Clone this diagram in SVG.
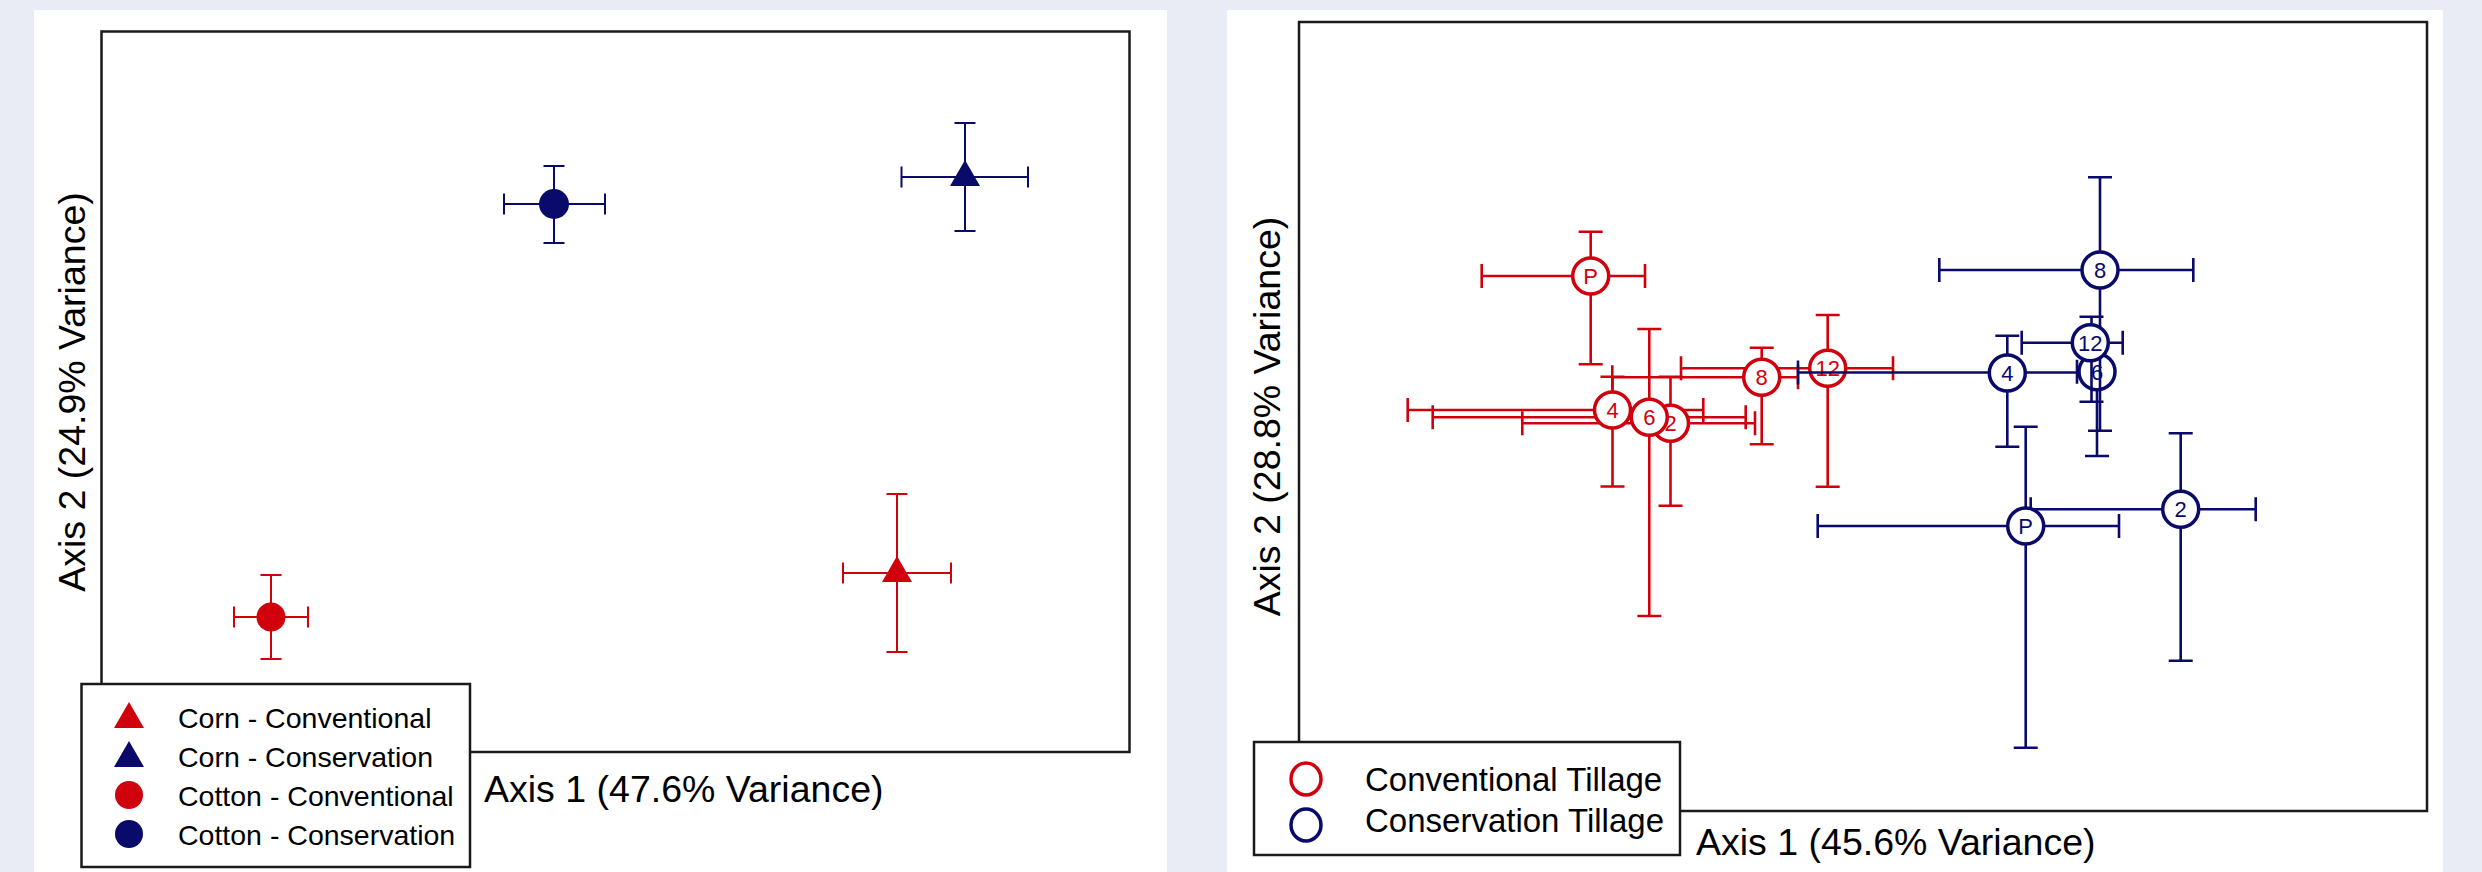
<svg xmlns="http://www.w3.org/2000/svg" width="2482" height="872" viewBox="0 0 2482 872">
<style>
text{font-family:"Liberation Sans",Arial,sans-serif;fill:#000}
.frame{fill:none;stroke:#1a1a1a;stroke-width:2.5}
.legend{fill:#fff;stroke:#1a1a1a;stroke-width:2.5}
.axis{font-size:37.5px}
.leg{font-size:28.5px}
.leg2{font-size:33px}
.rl{stroke:#d0000d;fill:none}
.bl{stroke:#0a0a6a;fill:none}
.thin{stroke-width:2}
.mid{stroke-width:2.6}
.rf{fill:#d0000d}
.bf{fill:#0a0a6a}
.rc{fill:#fff;stroke:#d0000d;stroke-width:3.5}
.bc{fill:#fff;stroke:#0a0a6a;stroke-width:3.5}
.rt{font-size:22px;fill:#d0000d;text-anchor:middle}
.bt{font-size:22px;fill:#0a0a6a;text-anchor:middle}
</style>
<rect x="0" y="0" width="2482" height="872" fill="#e9ecf4"/>
<rect x="34" y="10" width="1133" height="862" fill="#fff"/>
<rect x="1227" y="10" width="1216" height="862" fill="#fff"/>

<!-- LEFT PLOT -->
<g id="left-plot">
<rect class="frame" x="101.5" y="31.5" width="1028" height="720.5"/>
<text class="axis" x="484" y="802">Axis 1 (47.6% Variance)</text>
<text class="axis" transform="translate(85,392) rotate(-90)" text-anchor="middle">Axis 2 (24.9% Variance)</text>
</g>
<g id="connectors-left">
<path class="bl thin" d="M554 166V243M543.5 166H564.5M543.5 243H564.5M504 204H605M504 193.5V214.5M605 193.5V214.5"/>
<path class="bl thin" d="M965 123V231M954.5 123H975.5M954.5 231H975.5M901.5 177H1028M901.5 166.5V187.5M1028 166.5V187.5"/>
<path class="rl thin" d="M271 575V659M260.5 575H281.5M260.5 659H281.5M234 617H308M234 606.5V627.5M308 606.5V627.5"/>
<path class="rl thin" d="M897 494V652M886.5 494H907.5M886.5 652H907.5M843 573H951M843 562.5V583.5M951 562.5V583.5"/>
</g>
<g id="cotton-conservation"><circle class="bf" cx="554" cy="204" r="15"/></g>
<g id="corn-conservation"><polygon class="bf" points="965,160 980,186 950,186"/></g>
<g id="cotton-conventional"><circle class="rf" cx="271" cy="617" r="14.5"/></g>
<g id="corn-conventional"><polygon class="rf" points="897,556 912,582 882,582"/></g>

<g id="legend-left">
<rect class="legend" x="81.5" y="684" width="388.5" height="183"/>
<polygon class="rf" points="129,702 144,728 114,728"/>
<polygon class="bf" points="129,741 144,767 114,767"/>
<circle class="rf" cx="129" cy="795" r="14"/>
<circle class="bf" cx="129" cy="834" r="14"/>
<text class="leg" x="178" y="728">Corn - Conventional</text>
<text class="leg" x="178" y="767">Corn - Conservation</text>
<text class="leg" x="178" y="806">Cotton - Conventional</text>
<text class="leg" x="178" y="845">Cotton - Conservation</text>
</g>

<!-- RIGHT PLOT -->
<g id="right-plot">
<rect class="frame" x="1299" y="22" width="1128" height="789"/>
<text class="axis" x="1696" y="855">Axis 1 (45.6% Variance)</text>
<text class="axis" transform="translate(1280,416.5) rotate(-90)" text-anchor="middle">Axis 2 (28.8% Variance)</text>
</g>

<g id="connectors-right-red">
<path class="rl mid" d="M1590.7 231.7V364.3M1578.7 231.7H1602.7M1578.7 364.3H1602.7M1481.7 276H1645M1481.7 264V288M1645 264V288"/>
<path class="rl mid" d="M1827.7 315V486.7M1815.7 315H1839.7M1815.7 486.7H1839.7M1681 368.3H1893M1681 356.3V380.3M1893 356.3V380.3"/>
<path class="rl mid" d="M1670.5 376.7V505.7M1658.5 376.7H1682.5M1658.5 505.7H1682.5M1522.3 423.3H1755M1522.3 411.3V435.3M1755 411.3V435.3"/>
<path class="rl mid" d="M1649.3 329V616M1637.3 329H1661.3M1637.3 616H1661.3M1432.7 417.3H1745.7M1432.7 405.3V429.3M1745.7 405.3V429.3"/>
<path class="rl mid" d="M1612.5 376.7V486.5M1600.5 376.7H1624.5M1600.5 486.5H1624.5M1407.7 410H1703.3M1407.7 398V422M1703.3 398V422"/>
<path class="rl mid" d="M1761.7 347.7V444.3M1749.7 347.7H1773.7M1749.7 444.3H1773.7M1612.3 377.3H1798M1612.3 365.3V389.3M1798 365.3V389.3"/>
</g>
<g id="red-P"><circle class="rc" cx="1590.7" cy="276" r="18"/><text class="rt" x="1590.7" y="284">P</text></g>
<g id="red-12"><circle class="rc" cx="1827.7" cy="368.3" r="18"/><text class="rt" x="1827.7" y="376.3">12</text></g>
<g id="red-2"><circle class="rc" cx="1670.5" cy="423.3" r="18"/><text class="rt" x="1670.5" y="431.3">2</text></g>
<g id="red-4"><circle class="rc" cx="1612.5" cy="410" r="18"/><text class="rt" x="1612.5" y="418">4</text></g>
<g id="red-6"><circle class="rc" cx="1649.3" cy="417.3" r="18"/><text class="rt" x="1649.3" y="425.3">6</text></g>
<g id="red-8"><circle class="rc" cx="1761.7" cy="377.3" r="18"/><text class="rt" x="1761.7" y="385.3">8</text></g>

<g id="connectors-right-blue-6">
<path class="bl mid" d="M2097 350V456M2085 456H2109M2077 371.7H2112M2077 359.7V383.7"/>
</g>
<g id="blue-6"><circle class="bc" cx="2097" cy="371.7" r="18"/><text class="bt" x="2097" y="379.7">6</text></g>
<g id="connectors-right-blue">
<path class="bl mid" d="M2100 177.3V430.7M2088 177.3H2112M2088 430.7H2112M1939.3 270H2193.3M1939.3 258V282M2193.3 258V282"/>
<path class="bl mid" d="M2091.5 316.7V401.7M2079.5 316.7H2103.5M2079.5 401.7H2103.5M2021.7 342.7H2122.7M2021.7 330.7V354.7M2122.7 330.7V354.7"/>
<path class="bl mid" d="M2007.3 335.7V446.7M1995.3 335.7H2019.3M1995.3 446.7H2019.3M1798 372.5H2077M1798 360.5V384.5"/>
<path class="bl mid" d="M2180.7 433.3V660.7M2168.7 433.3H2192.7M2168.7 660.7H2192.7M2030.7 509.3H2255.7M2030.7 497.3V521.3M2255.7 497.3V521.3"/>
<path class="bl mid" d="M2025.7 426.7V747.7M2013.7 426.7H2037.7M2013.7 747.7H2037.7M1817.7 526H2119M1817.7 514V538M2119 514V538"/>
</g>
<g id="blue-P"><circle class="bc" cx="2025.7" cy="526" r="18"/><text class="bt" x="2025.7" y="534">P</text></g>
<g id="blue-2"><circle class="bc" cx="2180.7" cy="509.3" r="18"/><text class="bt" x="2180.7" y="517.3">2</text></g>
<g id="blue-4"><circle class="bc" cx="2007.3" cy="373" r="18"/><text class="bt" x="2007.3" y="381">4</text></g>
<g id="blue-8"><circle class="bc" cx="2100" cy="270" r="18"/><text class="bt" x="2100" y="278">8</text></g>
<g id="blue-12"><circle class="bc" cx="2090.3" cy="342.7" r="18"/><text class="bt" x="2090.3" y="350.7">12</text></g>

<g id="legend-right">
<rect class="legend" x="1254" y="742" width="426" height="113"/>
<ellipse class="rc" cx="1306" cy="779" rx="15" ry="16"/>
<ellipse class="bc" cx="1306" cy="825" rx="15" ry="16"/>
<text class="leg2" x="1365" y="791">Conventional Tillage</text>
<text class="leg2" x="1365" y="832">Conservation Tillage</text>
</g>
</svg>
